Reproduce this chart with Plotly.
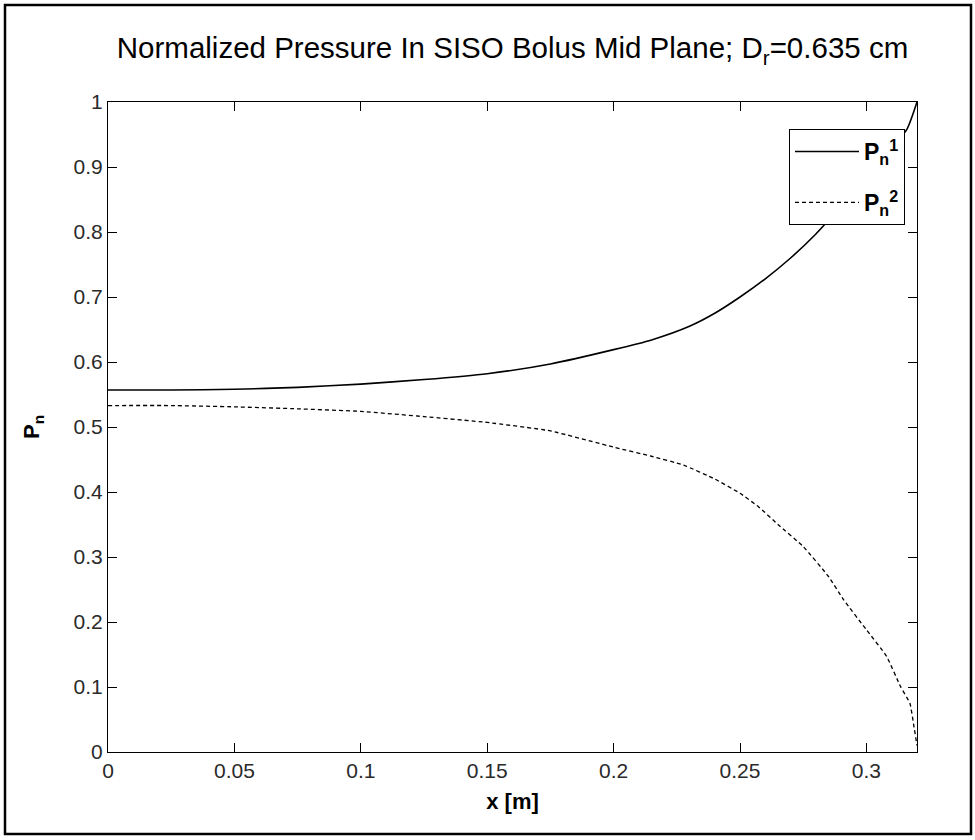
import plotly.graph_objects as go

# Data
x_p1 = [0, 0.025, 0.05, 0.075, 0.1, 0.125, 0.15, 0.175, 0.2, 0.215, 0.23, 0.24,
        0.25, 0.26, 0.27, 0.28, 0.29, 0.3, 0.31, 0.316, 0.32]
y_p1 = [0.557, 0.557, 0.558, 0.561, 0.566, 0.573, 0.582, 0.597, 0.619, 0.634, 0.655, 0.675,
        0.70, 0.728, 0.76, 0.797, 0.84, 0.885, 0.93, 0.958, 1.0]

x_p2 = [0, 0.025, 0.05, 0.075, 0.1, 0.125, 0.15, 0.175, 0.2, 0.215, 0.2276, 0.24,
        0.25, 0.2574, 0.265, 0.275, 0.285, 0.291, 0.3, 0.308, 0.3135, 0.3172, 0.3188, 0.32]
y_p2 = [0.533, 0.533, 0.531, 0.528, 0.524, 0.516, 0.507, 0.494, 0.469, 0.455, 0.4415, 0.42,
        0.398, 0.377, 0.35, 0.316, 0.27, 0.234, 0.188, 0.147, 0.1005, 0.075, 0.039, 0.01]

x_tickvals = [0, 0.05, 0.1, 0.15, 0.2, 0.25, 0.3]
x_ticktext = ["0", "0.05", "0.1", "0.15", "0.2", "0.25", "0.3"]
y_tickvals = [0, 0.1, 0.2, 0.3, 0.4, 0.5, 0.6, 0.7, 0.8, 0.9, 1]
y_ticktext = ["0", "0.1", "0.2", "0.3", "0.4", "0.5", "0.6", "0.7", "0.8", "0.9", "1"]

FONT = "Liberation Sans, Arial, Helvetica, sans-serif"

fig = go.Figure()
fig.add_trace(go.Scatter(x=x_p1, y=y_p1, mode="lines",
                         name="<b>P<sub>n</sub><sup>1</sup></b>", legendgroup="g1",
                         line=dict(color="black", width=1.6, shape="spline", smoothing=0.6)))
fig.add_trace(go.Scatter(x=x_p2, y=y_p2, mode="lines",
                         name="<b>P<sub>n</sub><sup>2</sup></b>", legendgroup="g2",
                         line=dict(color="black", width=1.3, dash="4px,3px",
                                   shape="spline", smoothing=0.4)))

L, R, T, B = 108, 917, 102, 752
W, H = 975, 840

axis_common = dict(showgrid=False, zeroline=False, showline=True, linecolor="black",
                   linewidth=1.2, mirror="ticks", ticks="inside", ticklen=9,
                   tickcolor="black", tickwidth=1,
                   tickfont=dict(family=FONT, size=21, color="#2a2a2a"))

fig.update_layout(
    width=W, height=H,
    margin=dict(l=L, r=W - R, t=T, b=H - B, autoexpand=False),
    paper_bgcolor="white", plot_bgcolor="white",
    title=dict(text="Normalized Pressure In SISO Bolus Mid Plane; D<sub>r</sub>=0.635 cm",
               x=(L + R) / 2 / W, xanchor="center", y=1 - 48 / H, yanchor="middle",
               font=dict(family=FONT, size=29.5, color="black")),
    xaxis=dict(range=[0, 0.32], tickvals=x_tickvals, ticktext=x_ticktext,
               title=dict(text="<b>x [m]</b>", standoff=12,
                          font=dict(family=FONT, size=22, color="black")),
               **axis_common),
    yaxis=dict(range=[0, 1], tickvals=y_tickvals, ticktext=y_ticktext,
               title=dict(text="<b>P<sub>n</sub></b>", standoff=27,
                          font=dict(family=FONT, size=22, color="black")),
               **axis_common),
    legend=dict(x=(789 - L) / (R - L), y=(B - 129) / (B - T), xanchor="left", yanchor="top",
                bgcolor="white", bordercolor="black", borderwidth=1,
                itemwidth=64, font=dict(family=FONT, size=23, color="black"),
                tracegroupgap=18),
    showlegend=True,
)

# outer figure frame
fig.add_shape(type="rect", xref="paper", yref="paper",
              x0=(5 - L) / (R - L), x1=(971 - L) / (R - L),
              y0=(B - 834) / (B - T), y1=(B - 5) / (B - T),
              line=dict(color="black", width=2.5), fillcolor="rgba(0,0,0,0)", layer="above")

fig.write_html("out.html", config={"displayModeBar": False},
               post_script="document.body.style.margin='0px';")
